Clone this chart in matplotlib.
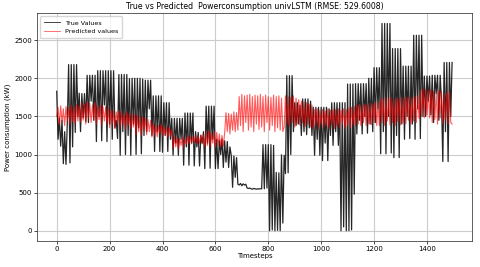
import numpy as np
import matplotlib
matplotlib.use("Agg")
import matplotlib.pyplot as plt

# values, one every 5 timesteps
true_vals = [
    1830,
    1200, 1480, 1110,
    1450, 880, 1300, 870, 1420,
    2180, 890, 2180, 1100, 2180, 1290, 2180, 1500,
    1805, 1300, 1800, 1480, 1800,
    1430, 2040, 1420, 2040, 1700, 2040, 1450, 2040,
    1170, 2100, 1500, 2100, 1180, 2100, 1650, 2100, 1170, 2100, 1400, 2100, 1200, 2100, 1350,
    1450, 1210,
    2050, 990, 2050, 1300, 2050, 1000, 2050, 1250,
    1995, 990, 2000, 1400, 2000, 1000, 2000, 1350, 2000, 1010, 1990,
    1250, 1975, 1300, 1975, 1600, 1975, 1250,
    1770, 1040, 1770, 1300, 1770, 1040, 1770,
    1030, 1680, 1250, 1680, 1040, 1680, 1200,
    1475, 990, 1475, 1150, 1475, 990, 1475, 1200, 1475,
    860, 1545, 1100, 1545, 860, 1545, 1150, 1545,
    850, 1300, 1100, 1290, 850, 1250, 1150, 1300,
    815, 1635, 1150, 1635, 820, 1635, 1200, 1635, 815,
    1200, 815, 1190, 1000, 1200,
    830, 1180, 900, 1170, 830, 1100,
    985, 570, 980, 700, 960,
    610, 600, 620, 590, 615, 600, 610, 560, 555, 560,
    550, 545, 555, 550, 545, 550, 548, 552, 550,
    1130, 550, 1130, 560,
    1130, 0, 1130, 10, 1120,
    0, 765, 5, 760, 0,
    996, 100, 990,
    750, 2035, 760, 2035, 1000, 2035, 1300,
    1680, 1380, 1680, 1400, 1650,
    1250, 1730, 1300, 1730, 1260, 1730, 1350, 1700, 1250,
    1620, 990, 1620, 1200, 1620, 990,
    1620, 920, 1620, 1150, 1620, 920, 1600, 1250,
    1680, 1120, 1680, 1300, 1680, 1120,
    1680, 0, 1680, 50, 1680,
    0, 1925, 0, 1925, 10,
    1925, 480,
    1930, 1270, 1930, 1450, 1930, 1270, 1930, 1500, 1930,
    1280, 2000, 1400, 2000, 1300,
    2140, 1420, 2140, 1600, 2140,
    1010, 2720, 1300, 2720, 1010, 2720, 1500, 2720, 1020,
    2390, 960, 2390, 1250, 2390, 960, 2390, 1400,
    2160, 1200, 2160, 1500, 2160, 1210, 2160, 1400,
    2565, 1200, 2565, 1600, 2565, 1210, 2565, 1500,
    2030, 1500, 2030, 1700, 2030, 1520,
    2040, 1420, 2040, 1800, 2040, 1450, 2040, 1700,
    908, 2208, 1300, 2208, 908, 2208, 1500, 2208,
]

pred_vals = [
    1500, 1620, 1390, 1640, 1420, 1600, 1380, 1630, 1450, 1610, 1400, 1650, 1430, 1620, 1400, 1660, 1440, 1640,
    1420, 1680, 1450, 1660, 1400, 1690, 1480, 1670, 1420, 1650, 1450, 1680, 1400, 1640, 1460, 1650, 1390, 1630, 1440, 1620, 1400, 1610,
    1350, 1580, 1400, 1570, 1340, 1560, 1420, 1580, 1360, 1550, 1400, 1540, 1330, 1560, 1380, 1530, 1340, 1540, 1360, 1520,
    1260, 1520, 1300, 1500, 1250, 1490, 1320, 1480, 1260, 1460, 1300, 1450,
    1230, 1400, 1260, 1390, 1230, 1380, 1280, 1400, 1240, 1370, 1260, 1360, 1230, 1350, 1240, 1330,
    1080, 1230, 1100, 1220, 1070, 1210, 1120, 1230, 1090, 1200,
    1140, 1250, 1150, 1240, 1140, 1230, 1160, 1250, 1140, 1240, 1150, 1260, 1140, 1250,
    1100, 1300, 1120, 1310, 1100, 1280, 1150, 1300, 1100, 1290, 1120, 1270, 1100, 1250, 1110,
    1280, 1550, 1300, 1540, 1270, 1530, 1320, 1560, 1300, 1550,
    1320, 1760, 1380, 1790, 1300, 1770, 1420, 1780, 1320, 1790, 1360, 1760, 1300, 1780, 1400, 1770, 1330, 1790,
    1360, 1760, 1300, 1780, 1420, 1760, 1320, 1750, 1380, 1780, 1300, 1760, 1350, 1770, 1320, 1740, 1300,
    1360, 1770, 1400, 1760, 1370, 1750, 1420, 1770, 1360, 1740, 1400, 1720, 1380, 1700, 1420, 1690, 1370, 1680, 1400, 1660, 1360, 1650,
    1340, 1590, 1380, 1600, 1340, 1580, 1400, 1590, 1350, 1570, 1380, 1600, 1340, 1580, 1400, 1590,
    1340, 1590, 1380, 1600, 1350, 1580, 1400, 1600, 1340, 1590, 1380, 1610, 1350, 1620, 1390, 1630,
    1380, 1650, 1400, 1660, 1380, 1640, 1420, 1660, 1380, 1650, 1400, 1670, 1390, 1660, 1420, 1680, 1380, 1690,
    1380, 1740, 1420, 1720, 1380, 1750, 1440, 1730, 1390, 1750, 1420, 1720, 1380, 1740, 1430,
    1730, 1390, 1750, 1420, 1740, 1400, 1750, 1450, 1760, 1400, 1740, 1440, 1760, 1420, 1770,
    1470, 1840, 1500, 1860, 1480, 1850, 1520, 1860, 1480, 1840,
    1420, 1830, 1460, 1820, 1400, 1840, 1480, 1830, 1410, 1800, 1450, 1810, 1400, 1820, 1420, 1400,
]

t_true = np.arange(len(true_vals)) * 5
t_pred = np.arange(len(pred_vals)) * 5

plt.rcParams['font.family'] = 'DejaVu Sans'
fig = plt.figure(figsize=(4.8, 2.67), dpi=100)
ax = fig.add_axes([0.077, 0.097, 0.906, 0.854])

ax.plot(t_true, true_vals, color='black', lw=0.9, alpha=0.85, label='True Values')
ax.plot(t_pred, pred_vals, color='red', lw=0.8, alpha=0.65, label='Predicted values')

ax.set_title('True vs Predicted  Powerconsumption univLSTM (RMSE: 529.6008)', fontsize=5.6, pad=3)
ax.set_xlabel('Timesteps', fontsize=5, labelpad=1)
ax.set_ylabel('Power consumption (kW)', fontsize=5, labelpad=2)
ax.tick_params(labelsize=5, length=2, width=0.5, pad=1.5)
ax.grid(True, color='#cccccc', lw=0.8)
for s in ax.spines.values():
    s.set_linewidth(0.6)
    s.set_color('#444444')
leg = ax.legend(loc='upper left', fontsize=4.6, frameon=True, handlelength=2.5,
                borderpad=0.6, labelspacing=0.5, fancybox=True)
for line in leg.get_lines():
    line.set_linewidth(0.6)

fig.savefig('out.png', dpi=100)
